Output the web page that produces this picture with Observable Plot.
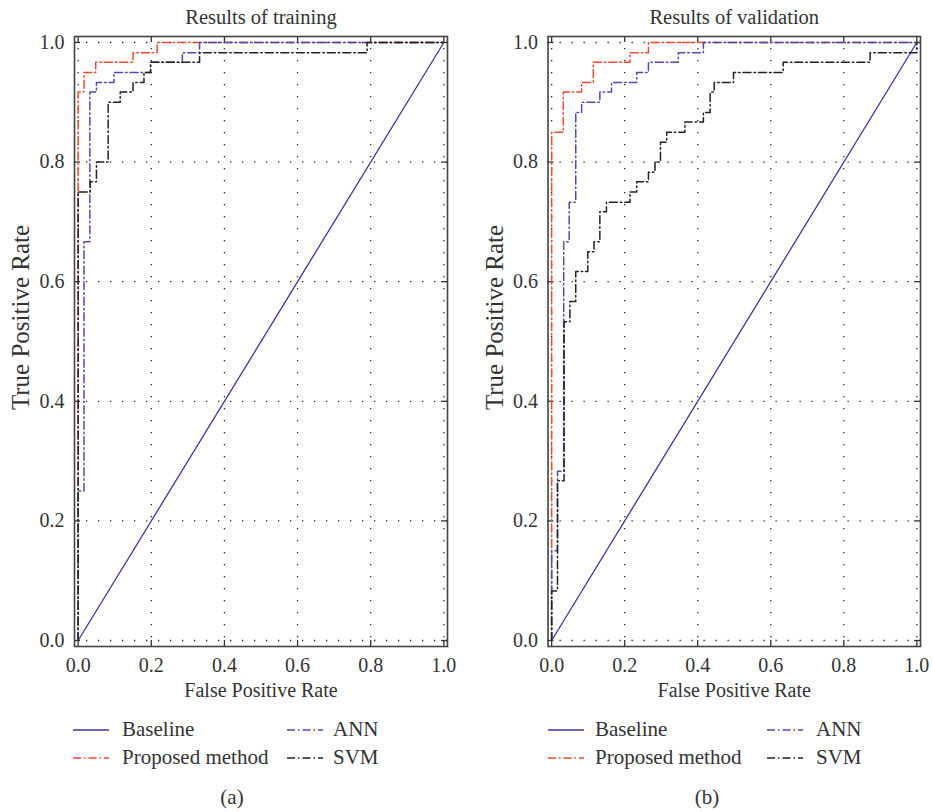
<!DOCTYPE html>
<html>
<head>
<meta charset="utf-8">
<script src="https://cdn.jsdelivr.net/npm/d3@7"></script>
<script src="https://cdn.jsdelivr.net/npm/@observablehq/plot@0.6"></script>
<style>
  html, body { margin: 0; padding: 0; background: #fff; }
  #root { position: relative; width: 932px; height: 812px; font-family: "Liberation Serif", serif; color: #333; }
  .panel { position: absolute; top: 0; }
  .leg { position: absolute; font-size: 21px; line-height: 21px; white-space: nowrap; }
  .cap { position: absolute; font-size: 21px; transform: translateX(-50%); }
</style>
</head>
<body>
<div id="root"></div>
<script>
// ---- data ----
const seriesNames = ["Baseline", "Proposed method", "ANN", "SVM"];
const seriesColors = ["#3a36a6", "#ee4a2c", "#4f4bb5", "#222222"];
const tickValues = [0, 0.2, 0.4, 0.6, 0.8, 1.0];
const panelTitles = ["Results of training", "Results of validation"];
const panelCaptions = ["(a)", "(b)"];
const xLabel = "False Positive Rate";
const yLabel = "True Positive Rate";

const baselineFpr = [0, 1];
const baselineTpr = [0, 1];

// training (operating points of the ROC staircases)
const trainProposedFpr = [0, 0, 0.016, 0.048, 0.15, 0.216, 1];
const trainProposedTpr = [0, 0.917, 0.95, 0.967, 0.983, 1, 1];
const trainAnnFpr = [0, 0, 0.016, 0.032, 0.05, 0.098, 0.198, 0.285, 0.332, 1];
const trainAnnTpr = [0, 0.25, 0.667, 0.917, 0.933, 0.95, 0.967, 0.983, 1, 1];
const trainSvmFpr = [0, 0, 0.033, 0.05, 0.082, 0.115, 0.15, 0.18, 0.198, 0.332, 0.79, 1];
const trainSvmTpr = [0, 0.75, 0.767, 0.8, 0.9, 0.917, 0.933, 0.95, 0.967, 0.983, 1, 1];

// validation
const validProposedFpr = [0, 0, 0.032, 0.082, 0.114, 0.2145, 0.265, 1];
const validProposedTpr = [0, 0.85, 0.917, 0.933, 0.967, 0.983, 1, 1];
const validAnnFpr = [0, 0, 0.016, 0.033, 0.048, 0.066, 0.082, 0.132, 0.164, 0.233, 0.265, 0.347, 0.4155, 1];
const validAnnTpr = [0, 0.15, 0.283, 0.667, 0.733, 0.883, 0.9, 0.917, 0.933, 0.95, 0.967, 0.983, 1, 1];
const validSvmFpr = [0, 0, 0.016, 0.034, 0.05, 0.066, 0.099, 0.116, 0.132, 0.15, 0.2145, 0.233, 0.265, 0.283, 0.298, 0.315, 0.365, 0.4155, 0.434, 0.445, 0.498, 0.634, 0.872, 1];
const validSvmTpr = [0, 0.083, 0.267, 0.533, 0.567, 0.617, 0.65, 0.667, 0.717, 0.733, 0.75, 0.767, 0.783, 0.8, 0.833, 0.85, 0.867, 0.883, 0.917, 0.933, 0.95, 0.967, 0.983, 1];

// ---- build ----
const zip = (xs, ys) => xs.map((x, i) => ({x, y: ys[i]}));
const dashDot = "8,3,1.5,3";

const W = 466, H = 712, MT = 36, MB = 66;
const panels = [
  {left: 0, ml: 74, mr: 19,
   legSample: [73, 287], legText: [122, 333], cap: 232,
   series: [zip(baselineFpr, baselineTpr), zip(trainProposedFpr, trainProposedTpr), zip(trainAnnFpr, trainAnnTpr), zip(trainSvmFpr, trainSvmTpr)]},
  {left: 466, ml: 81.5, mr: 12,
   legSample: [548, 767], legText: [595, 816], cap: 707,
   series: [zip(baselineFpr, baselineTpr), zip(validProposedFpr, validProposedTpr), zip(validAnnFpr, validAnnTpr), zip(validSvmFpr, validSvmTpr)]}
];

const root = document.getElementById("root");

panels.forEach((p, pi) => {
  const frameW = W - p.ml - p.mr;
  const frameH = H - MT - MB;
  const tk = 6;
  const marks = [
    Plot.ruleX(tickValues, {x: d => d, stroke: "#222", strokeWidth: 1.3, strokeDasharray: "1.3,10.7"}),
    Plot.ruleY(tickValues, {y: d => d, stroke: "#222", strokeWidth: 1.3, strokeDasharray: "1.3,10.7"}),
    Plot.ruleX(tickValues, {x: d => d, insetTop: frameH - tk, stroke: "#333", strokeWidth: 1.3}),
    Plot.ruleX(tickValues, {x: d => d, insetBottom: frameH - tk, stroke: "#333", strokeWidth: 1.3}),
    Plot.ruleY(tickValues, {y: d => d, insetRight: frameW - tk, stroke: "#333", strokeWidth: 1.3}),
    Plot.ruleY(tickValues, {y: d => d, insetLeft: frameW - tk, stroke: "#333", strokeWidth: 1.3}),
    Plot.line(p.series[0], {x: "x", y: "y", stroke: seriesColors[0], strokeWidth: 1.3}),
    Plot.line(p.series[1], {x: "x", y: "y", curve: "step-after", stroke: seriesColors[1], strokeWidth: 1.5, strokeDasharray: dashDot}),
    Plot.line(p.series[2], {x: "x", y: "y", curve: "step-after", stroke: seriesColors[2], strokeWidth: 1.5, strokeDasharray: dashDot}),
    Plot.line(p.series[3], {x: "x", y: "y", curve: "step-after", stroke: seriesColors[3], strokeWidth: 1.5, strokeDasharray: dashDot}),
    Plot.frame({stroke: "#444", strokeWidth: 1.6}),
    Plot.axisX(tickValues, {tickSize: 0, tickPadding: 11, tickFormat: d3.format(".1f"), label: null, fill: "#333"}),
    Plot.axisY(tickValues, {tickSize: 0, tickPadding: 10, tickFormat: d3.format(".1f"), label: null, fill: "#333"}),
    Plot.text([panelTitles[pi]], {text: d => d, frameAnchor: "top", textAnchor: "middle", dy: -19, lineAnchor: "middle", fontSize: 20.5, fill: "#333"}),
    Plot.text([xLabel], {text: d => d, frameAnchor: "bottom", textAnchor: "middle", dy: 44, lineAnchor: "middle", fill: "#333"}),
    Plot.text([yLabel], {text: d => d, frameAnchor: "left", textAnchor: "middle", dx: -53.5, dy: -24, rotate: -90, lineAnchor: "middle", fontSize: 25, fill: "#333"})
  ];
  const chart = Plot.plot({
    width: W, height: H,
    marginLeft: p.ml, marginRight: p.mr, marginTop: MT, marginBottom: MB,
    x: {domain: [-0.01, 1.01], axis: null},
    y: {domain: [-0.01, 1.01], axis: null},
    style: {fontFamily: "Liberation Serif", fontSize: "20px", color: "#333", background: "transparent"},
    marks
  });
  const wrap = document.createElement("div");
  wrap.className = "panel";
  wrap.style.left = p.left + "px";
  wrap.appendChild(chart);
  root.appendChild(wrap);

  // legend
  const cols = [[0, 1], [2, 3]];
  const rowY = [730, 757.5];
  cols.forEach((col, ci) => {
    col.forEach((si, ri) => {
      const dash = si === 0 ? "" : `stroke-dasharray="${dashDot}"`;
      const s = document.createElement("div");
      s.className = "leg";
      s.style.left = p.legSample[ci] + "px";
      s.style.top = (rowY[ri] - 5) + "px";
      s.innerHTML = `<svg width="36" height="10" style="display:block"><line x1="0" x2="36" y1="5" y2="5" stroke="${seriesColors[si]}" stroke-width="1.5" ${dash}/></svg>`;
      root.appendChild(s);
      const t = document.createElement("div");
      t.className = "leg";
      t.style.left = p.legText[ci] + "px";
      t.style.top = (rowY[ri] - 11) + "px";
      t.textContent = seriesNames[si];
      root.appendChild(t);
    });
  });
  const cap = document.createElement("div");
  cap.className = "cap";
  cap.style.left = p.cap + "px";
  cap.style.top = "785px";
  cap.textContent = panelCaptions[pi];
  root.appendChild(cap);
});
</script>
</body>
</html>
